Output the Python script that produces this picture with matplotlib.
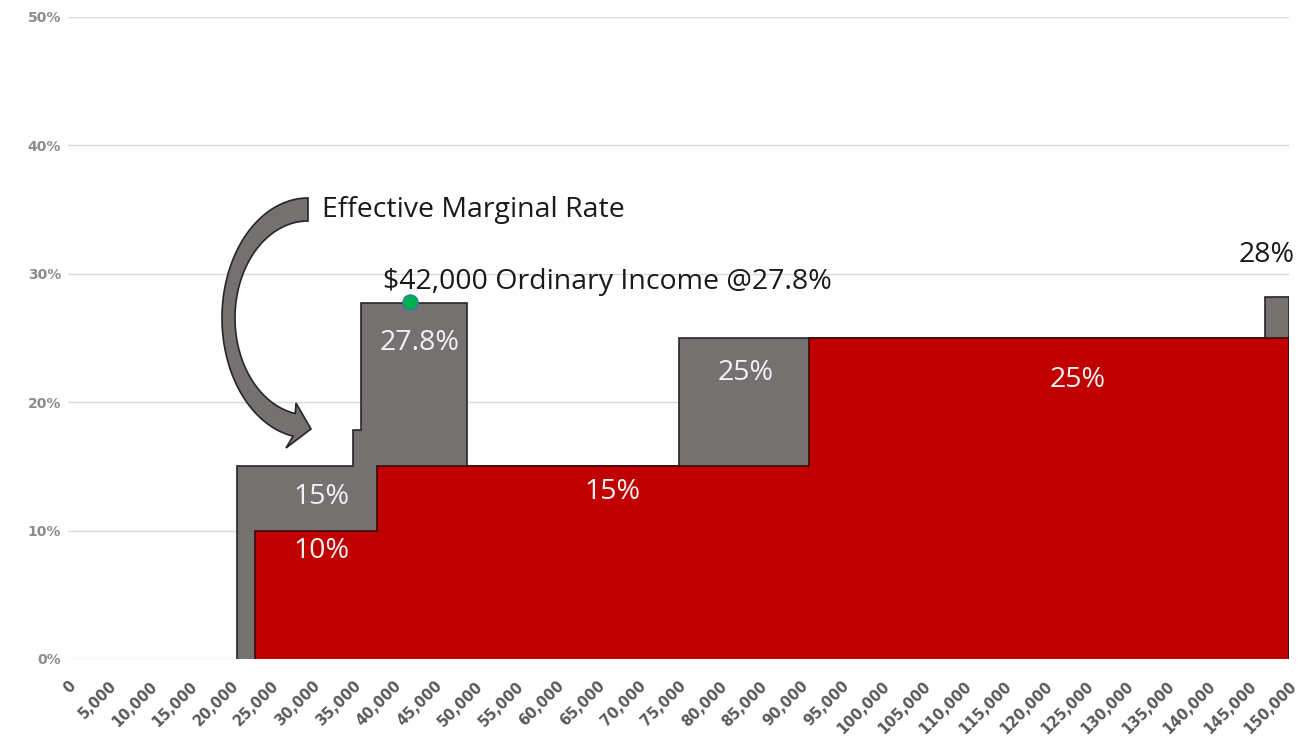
import numpy as np
import matplotlib
matplotlib.use('Agg')
import matplotlib.pyplot as plt
from matplotlib.patches import Polygon

# Income steps (x) and marginal rates in percent (y)
gray_edges = [20800, 35000, 36000, 49000, 75000, 147000, 150000]
gray_rates = [15, 17.8, 27.75, 15, 25, 28.2]   # effective marginal rate

red_edges = [23000, 38000, 91000, 150000]
red_rates = [10, 15, 25]                        # ordinary bracket rate

x_ticks = list(range(0, 150001, 5000))
x_labels = [f'{v:,}' for v in x_ticks]
y_ticks = [0, 10, 20, 30, 40, 50]
y_labels = [f'{v}%' for v in y_ticks]

point_income = 42000
point_rate = 27.8

W, H = 1307, 740
fig = plt.figure(figsize=(W / 100, H / 100), dpi=100)
ax = fig.add_axes([68 / W, 1 - 659 / H, (1289 - 68) / W, (659 - 17) / H])

gray = '#767171'
red = '#C00000'

ax.stairs(gray_rates, gray_edges, baseline=0, fill=True,
          facecolor=gray, edgecolor='#262626', linewidth=1.2, zorder=2)
ax.stairs(red_rates, red_edges, baseline=0, fill=True,
          facecolor=red, edgecolor='#3a0a0a', linewidth=1.2, zorder=3)

ax.plot([point_income], [point_rate], 'o', color='#00b050', markersize=11,
        markeredgecolor='#2e75b6', markeredgewidth=0.8, zorder=5, clip_on=False)

ax.set_xlim(0, 150000)
ax.set_ylim(0, 50)
ax.set_xticks(x_ticks)
ax.set_xticklabels(x_labels, rotation=45, ha='right', rotation_mode='anchor',
                   fontsize=10.5, fontweight='bold', color='#595959')
ax.set_yticks(y_ticks)
ax.set_yticklabels(y_labels, fontsize=10, fontweight='bold', color='#8c8c8c')
ax.tick_params(axis='both', length=0)
ax.tick_params(axis='x', pad=14)
ax.tick_params(axis='y', pad=5)
ax.grid(axis='y', color='#d9d9d9', linewidth=1)
ax.set_axisbelow(True)
for s in ax.spines.values():
    s.set_visible(False)

font = 'Open Sans'
fs = 20.5
white_kw = dict(color='#f2f2f2', fontsize=fs, family=font, ha='center', va='center', zorder=6)
ax.text(43200, 24.6, '27.8%', **white_kw)
ax.text(31100, 12.6, '15%', **white_kw)
ax.text(31100, 8.4, '10%', **white_kw)
ax.text(66900, 13.0, '15%', **white_kw)
ax.text(83300, 22.3, '25%', **white_kw)
ax.text(124000, 21.7, '25%', **white_kw)

dark_kw = dict(color='#1a1a1a', fontsize=fs, family=font, va='center', zorder=6)
ax.text(147300, 31.5, '28%', ha='center', **dark_kw)
ax.text(38700, 29.4, '$42,000 Ordinary Income @27.8%', ha='left', **dark_kw)
ax.text(31200, 35.0, 'Effective Marginal Rate', ha='left', **dark_kw)

# curved block arrow, built in image pixel space
cx, cy = 308, 318
t_out = np.radians(np.linspace(270, 100, 80))
t_in = t_out[::-1]
outer = np.column_stack([cx + 86 * np.cos(t_out), cy + 120 * np.sin(t_out)])
inner = np.column_stack([cx + 73 * np.cos(t_in), cy + 97 * np.sin(t_in)])
head = np.array([[286, 448], [311, 429], [296, 403]])
pts = np.vstack([outer, head, inner])
pts_fig = np.column_stack([pts[:, 0] / W, 1 - pts[:, 1] / H])
fig.patches.append(Polygon(pts_fig, closed=True, transform=fig.transFigure,
                           facecolor=gray, edgecolor='#262626', linewidth=1.2))

fig.savefig('out.png', dpi=100)
